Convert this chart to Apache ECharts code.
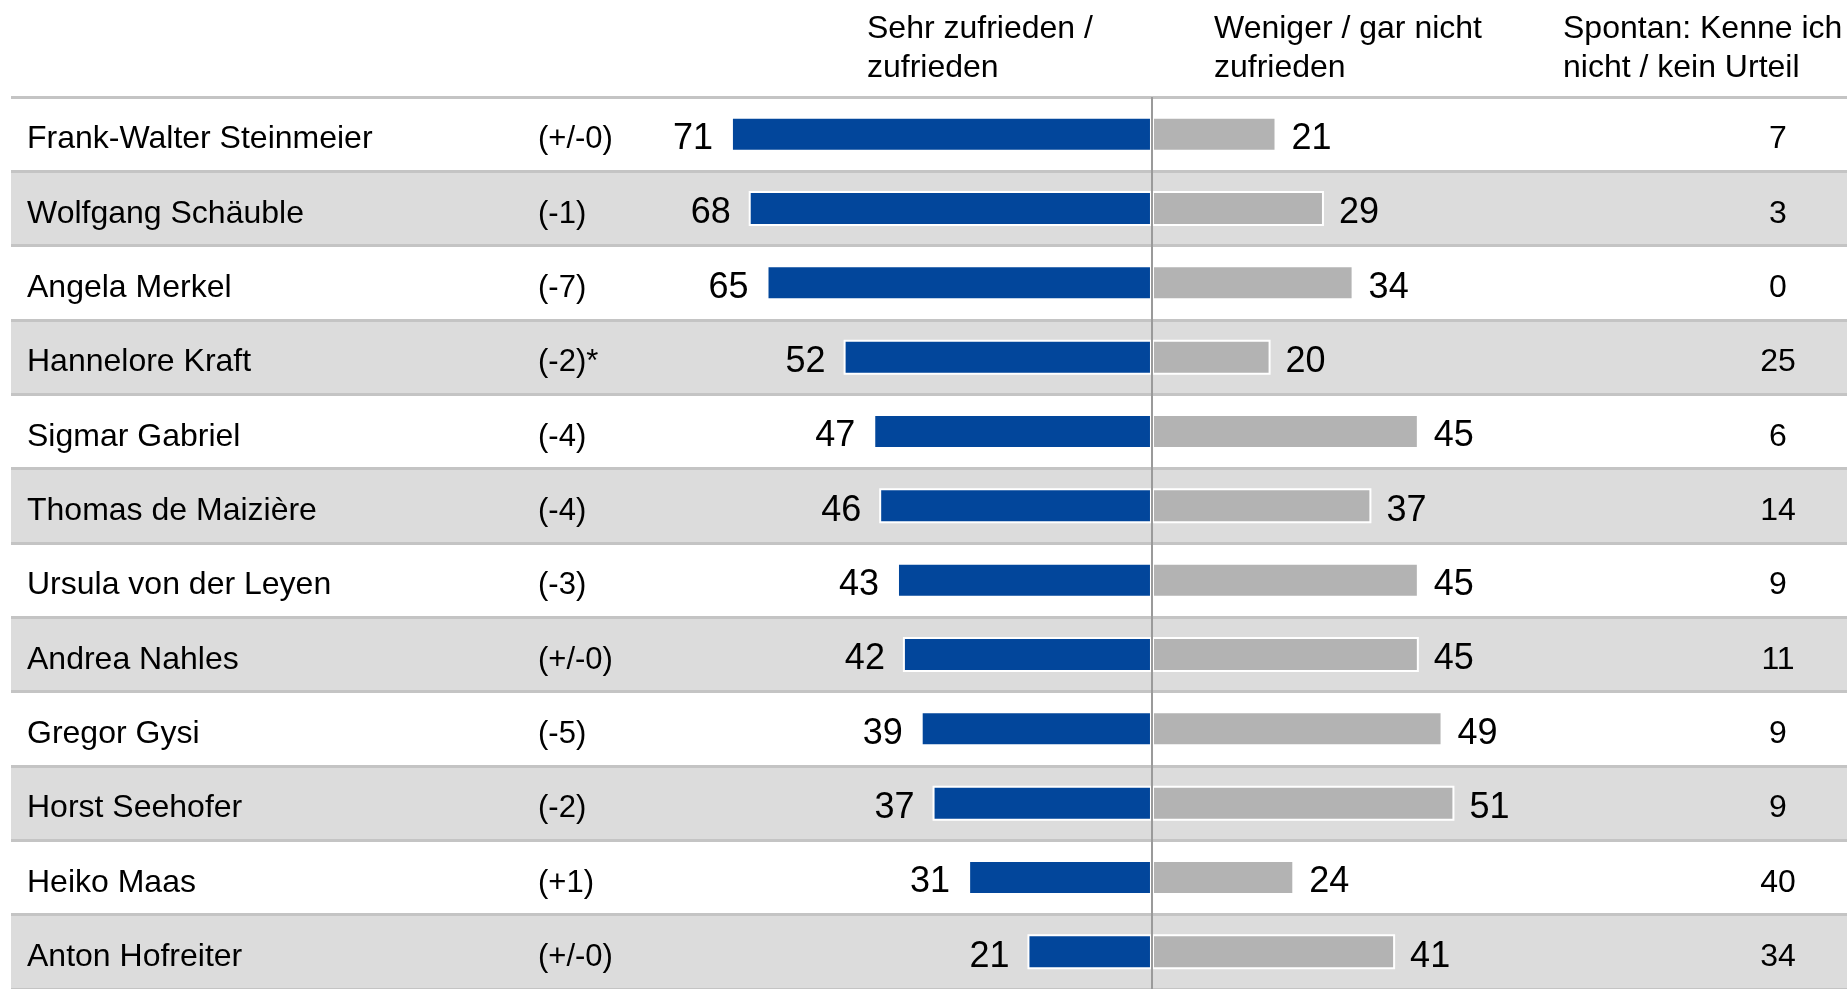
<!DOCTYPE html>
<html>
<head>
<meta charset="utf-8">
<script src="https://cdn.jsdelivr.net/npm/echarts@6/dist/echarts.min.js"></script>
<style>
html,body{margin:0;padding:0;background:#fff;}
#main{width:1847px;height:989px;}
</style>
</head>
<body>
<div id="main"></div>
<script>
// Politikerzufriedenheit
var names = ['Frank-Walter Steinmeier','Wolfgang Schäuble','Angela Merkel','Hannelore Kraft','Sigmar Gabriel',
    'Thomas de Maizière','Ursula von der Leyen','Andrea Nahles','Gregor Gysi','Horst Seehofer','Heiko Maas','Anton Hofreiter'];
var changes = ['(+/-0)','(-1)','(-7)','(-2)*','(-4)','(-4)','(-3)','(+/-0)','(-5)','(-2)','(+1)','(+/-0)'];
var satisfied = [71,68,65,52,47,46,43,42,39,37,31,21];
var dissatisfied = [21,29,34,20,45,37,45,45,49,51,24,41];
var noJudgment = [7,3,0,25,6,14,9,11,9,9,40,34];
var headers = ['Sehr zufrieden /\nzufrieden','Weniger / gar nicht\nzufrieden','Spontan: Kenne ich\nnicht / kein Urteil'];

var font = "'Liberation Sans', Arial, sans-serif";
var myChart = echarts.init(document.getElementById('main'));

var headerLeft = [867, 1214, 1563];
var titles = [];
for(var i=0;i<headers.length;i++){
    titles.push({
        text: headers[i],
        left: headerLeft[i],
        top: 10,
        padding: 0,
        textStyle:{fontSize:32,fontWeight:'normal',fontFamily:font,color:'#000',lineHeight:39}
    });
}

var option = {
    animation: false,
    backgroundColor: '#fff',
    title: titles,
    grid: {left: 11, right: 0, top: 97, height: 896},
    xAxis: {type: 'value', min: -192.4, max: 117.2, show: false},
    yAxis: [
        {
            type: 'category',
            data: names,
            inverse: true,
            axisLine: {show: true, lineStyle: {color: '#c8c8c8', width: 2}},
            axisTick: {show: false},
            axisLabel: {
                inside: true,
                margin: 16,
                fontFamily: font,
                color: '#000',
                formatter: function(v, idx){
                    return '{n|' + v + '}{c|' + changes[idx] + '}';
                },
                rich: {
                    n: {width: 511, fontSize: 32, fontFamily: font, color: '#000', padding: [11,0,0,0]},
                    c: {fontSize: 31, fontFamily: font, color: '#000', padding: [11,0,0,0]}
                }
            },
            splitArea: {show: true, areaStyle: {color: ['#ffffff', '#dcdcdc']}},
            splitLine: {show: true, lineStyle: {color: '#c4c4c4', width: 3}}
        },
        {
            type: 'category',
            data: names,
            inverse: true,
            position: 'right',
            axisLine: {show: false},
            axisTick: {show: false},
            splitLine: {show: false},
            axisLabel: {
                inside: true,
                margin: 39,
                formatter: function(v, idx){
                    return '{v|' + noJudgment[idx] + '}';
                },
                rich: {
                    v: {width: 60, align: 'center', fontSize: 32, fontFamily: font, color: '#000', padding: [11,0,0,0]}
                }
            }
        }
    ],
    series: [
        {
            name: 'Sehr zufrieden / zufrieden',
            type: 'bar',
            data: satisfied.map(function(v){ return -v; }),
            barWidth: 35,
            itemStyle: {color: '#02469b', borderColor: '#fff', borderWidth: 2},
            label: {
                show: true,
                position: 'left',
                distance: 18,
                offset: [0, 5],
                fontSize: 36,
                fontFamily: font,
                color: '#000',
                formatter: function(p){ return Math.abs(p.value); }
            }
        },
        {
            name: 'Weniger / gar nicht zufrieden',
            type: 'bar',
            data: dissatisfied,
            barWidth: 35,
            barGap: '-100%',
            itemStyle: {color: '#b3b3b3', borderColor: '#fff', borderWidth: 2},
            label: {
                show: true,
                position: 'right',
                distance: 15,
                offset: [0, 5],
                fontSize: 36,
                fontFamily: font,
                color: '#000'
            },
            markLine: {
                silent: true,
                symbol: ['none','none'],
                label: {show: false},
                lineStyle: {color: '#9a9a9a', width: 2, type: 'solid'},
                data: [{xAxis: 0}]
            }
        }
    ]
};
myChart.setOption(option);
</script>
</body>
</html>
